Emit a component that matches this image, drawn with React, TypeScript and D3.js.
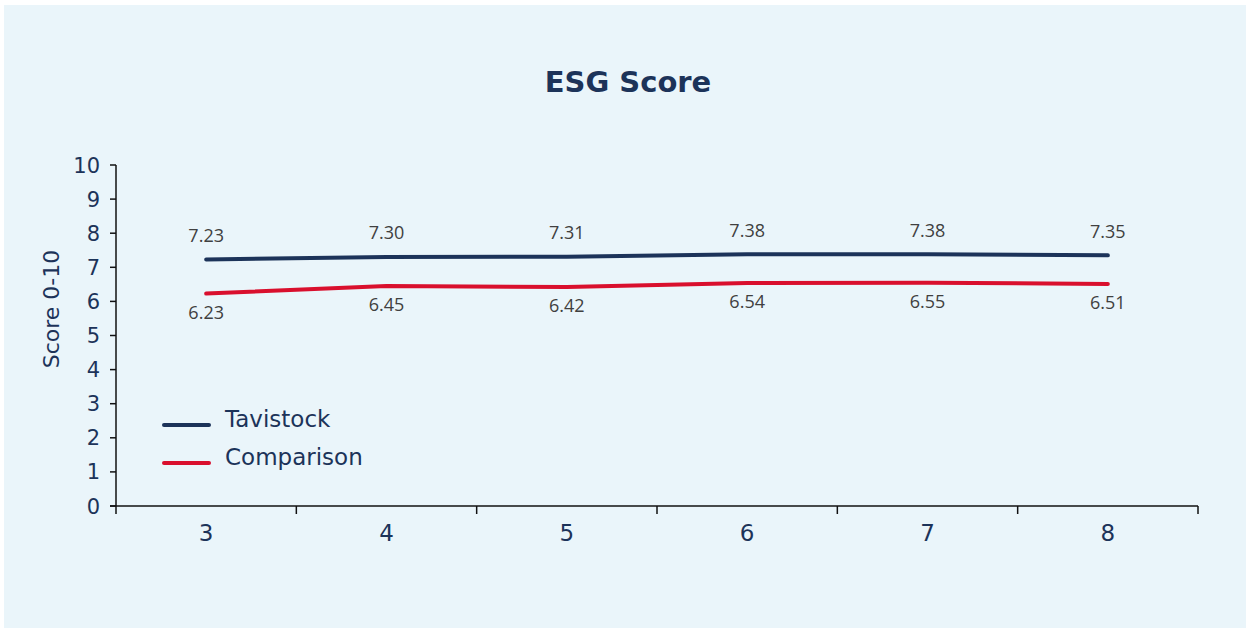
import React from "react";
import * as d3 from "d3";

const categories = ["3", "4", "5", "6", "7", "8"];
const tavistock = [7.23, 7.3, 7.31, 7.38, 7.38, 7.35];
const comparison = [6.23, 6.45, 6.42, 6.54, 6.55, 6.51];
const yTicks = [0, 1, 2, 3, 4, 5, 6, 7, 8, 9, 10];
const seriesNames = ["Tavistock", "Comparison"];
const seriesColors = ["#1C3359", "#D90F2D"];

const W = 1250;
const H = 631;
const FONT = "'DejaVu Sans', 'Noto Sans', sans-serif";
const LFONT = "'Open Sans', 'Noto Sans', sans-serif";
const NAVY = "#1C3359";

export default function App() {
  const x = d3.scaleBand<string>().domain(categories).range([116, 1198]).padding(0);
  const y = d3.scaleLinear().domain([0, 10]).range([506, 165]);
  const cx = (c: string) => (x(c) as number) + x.bandwidth() / 2;
  const line = d3
    .line<number>()
    .x((_, i) => cx(categories[i]))
    .y((v) => y(v));
  const series = [tavistock, comparison];
  const boundaries = [...categories.map((c) => x(c) as number), 1198];

  return (
    <svg
      width={W}
      height={H}
      style={{ position: "absolute", left: 0, top: 0 }}
    >
      <rect x={0} y={0} width={W} height={H} fill="#ffffff" />
      <rect x={4} y={5} width={1242} height={623} fill="#EAF5FA" />
      <text
        x={628}
        y={91.5}
        textAnchor="middle"
        fontFamily={FONT}
        fontWeight={700}
        fontSize={29}
        fill={NAVY}
      >
        ESG Score
      </text>
      <text
        transform="translate(59,309) rotate(-90)"
        textAnchor="middle"
        fontFamily={FONT}
        fontSize={22}
        fill={NAVY}
      >
        Score 0-10
      </text>
      {/* y axis */}
      <line x1={116} x2={116} y1={y(10)} y2={y(0)} stroke="#111" strokeWidth={1.5} />
      {yTicks.map((t) => (
        <g key={t}>
          <line x1={110} x2={116} y1={y(t)} y2={y(t)} stroke="#111" strokeWidth={1.5} />
          <text
            x={100}
            y={y(t)}
            dy="0.36em"
            textAnchor="end"
            fontFamily={FONT}
            fontSize={21}
            fill={NAVY}
          >
            {t}
          </text>
        </g>
      ))}
      {/* x axis */}
      <line x1={110} x2={1198} y1={y(0)} y2={y(0)} stroke="#111" strokeWidth={1.5} />
      {boundaries.map((b, i) => (
        <line key={i} x1={b} x2={b} y1={y(0)} y2={y(0) + 8} stroke="#111" strokeWidth={1.5} />
      ))}
      {categories.map((c) => (
        <text
          key={c}
          x={cx(c)}
          y={541}
          textAnchor="middle"
          fontFamily={FONT}
          fontSize={23}
          fill={NAVY}
        >
          {c}
        </text>
      ))}
      {/* lines */}
      {series.map((s, si) => (
        <path
          key={si}
          d={line(s) || ""}
          fill="none"
          stroke={seriesColors[si]}
          strokeWidth={4}
          strokeLinecap="round"
          strokeLinejoin="round"
        />
      ))}
      {/* data labels */}
      {tavistock.map((v, i) => (
        <text
          key={"t" + i}
          x={cx(categories[i])}
          y={y(v) - 24}
          dy="0.35em"
          textAnchor="middle"
          fontFamily={LFONT}
          fontSize={18}
          fill="#404040"
        >
          {v.toFixed(2)}
        </text>
      ))}
      {comparison.map((v, i) => (
        <text
          key={"c" + i}
          x={cx(categories[i])}
          y={y(v) + 19}
          dy="0.35em"
          textAnchor="middle"
          fontFamily={LFONT}
          fontSize={18}
          fill="#404040"
        >
          {v.toFixed(2)}
        </text>
      ))}
      {/* legend */}
      {seriesNames.map((n, i) => (
        <g key={n} transform={`translate(0,${425 + i * 38})`}>
          <line x1={164} x2={209} y1={0} y2={0} stroke={seriesColors[i]} strokeWidth={4} strokeLinecap="round" />
          <text x={225} y={2} fontFamily={FONT} fontSize={23} fill={NAVY}>
            {n}
          </text>
        </g>
      ))}
    </svg>
  );
}
